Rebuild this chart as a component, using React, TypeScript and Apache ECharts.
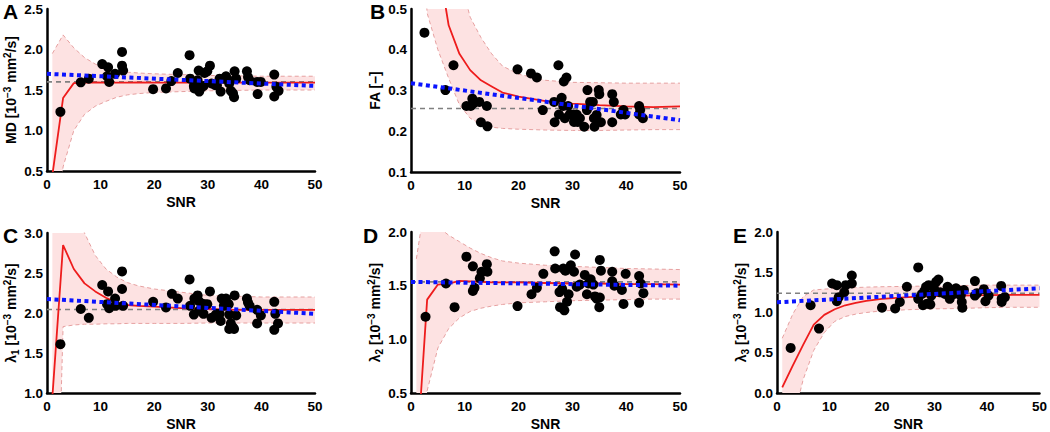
import React, { useEffect, useRef } from "react";
import * as echarts from "echarts";

// Shared SNR grid of the simulated mean / band curves
const snrGrid = [1, 3, 5, 7, 9, 11, 13, 15, 17, 20, 25, 30, 35, 40, 45, 50];
const trendSnr = [0, 50];
const refSnr = [0, 50];

// ---- Panel A : MD ----
const mdPoints: [number, number][] = [
  [2.5, 1.23], [6.3, 1.595], [7.8, 1.64], [10.3, 1.82], [11.4, 1.78], [11.2, 1.67], [11.6, 1.6],
  [12.7, 1.7], [14.0, 1.97], [14.0, 1.8], [14.2, 1.74], [19.8, 1.51], [22.2, 1.52], [23.2, 1.61],
  [24.4, 1.71], [26.6, 1.93], [26.7, 1.64], [27.4, 1.55], [27.5, 1.52], [28.1, 1.62], [28.3, 1.74],
  [28.4, 1.48], [28.8, 1.53], [29.2, 1.55], [29.4, 1.71], [29.9, 1.73], [30.4, 1.8], [30.7, 1.58],
  [31.4, 1.56], [31.7, 1.56], [32.2, 1.64], [32.4, 1.48], [33.0, 1.64], [33.4, 1.67], [33.9, 1.62],
  [34.0, 1.58], [34.3, 1.49], [34.7, 1.46], [34.9, 1.41], [35.0, 1.73], [35.3, 1.64], [37.3, 1.73],
  [37.5, 1.66], [37.8, 1.62], [39.2, 1.6], [39.3, 1.45], [39.9, 1.6], [42.4, 1.69], [42.4, 1.42],
  [42.8, 1.54], [43.2, 1.49],
];
const mdMean = [0.45, 1.4, 1.585, 1.59, 1.595, 1.59, 1.59, 1.59, 1.595, 1.59, 1.59, 1.59, 1.59, 1.59, 1.59, 1.59];
const mdUpper = [1.95, 2.18, 2.02, 1.9, 1.82, 1.77, 1.74, 1.72, 1.71, 1.7, 1.69, 1.68, 1.675, 1.67, 1.67, 1.67];
const mdLower = [-0.5, 0.55, 1.0, 1.2, 1.3, 1.36, 1.41, 1.44, 1.455, 1.47, 1.48, 1.49, 1.495, 1.5, 1.5, 1.5];
const mdReference = 1.6;
const mdTrend = [1.7, 1.55];

// ---- Panel B : FA ----
const faPoints: [number, number][] = [
  [2.5, 0.442], [6.4, 0.301], [7.9, 0.362], [10.3, 0.262], [11.4, 0.28], [11.6, 0.268], [11.1, 0.262],
  [12.7, 0.272], [13.0, 0.222], [14.1, 0.262], [14.2, 0.212], [19.8, 0.352], [22.3, 0.342], [23.4, 0.332],
  [24.5, 0.252], [26.6, 0.272], [26.7, 0.222], [27.4, 0.362], [27.5, 0.241], [28.0, 0.282], [28.3, 0.262],
  [28.4, 0.322], [28.9, 0.332], [28.6, 0.232], [29.2, 0.262], [29.5, 0.241], [30.2, 0.241], [30.3, 0.223],
  [30.8, 0.241], [31.0, 0.223], [31.4, 0.232], [32.2, 0.211], [32.8, 0.301], [32.7, 0.252], [33.3, 0.272],
  [33.8, 0.272], [34.0, 0.232], [34.1, 0.211], [34.5, 0.24], [34.9, 0.301], [35.0, 0.291], [35.3, 0.222],
  [37.4, 0.291], [37.4, 0.222], [37.7, 0.272], [39.0, 0.241], [39.5, 0.252], [39.8, 0.241], [42.4, 0.262],
  [42.6, 0.252], [42.4, 0.241], [43.1, 0.232],
];
const faMean = [2.0, 1.0, 0.62, 0.46, 0.39, 0.35, 0.325, 0.31, 0.295, 0.285, 0.274, 0.268, 0.264, 0.261, 0.259, 0.261];
const faUpper = [3.0, 1.5, 1.0, 0.8, 0.58, 0.48, 0.43, 0.39, 0.36, 0.34, 0.325, 0.32, 0.319, 0.318, 0.318, 0.318];
const faLower = [0.9, 0.49, 0.4, 0.33, 0.265, 0.232, 0.217, 0.21, 0.207, 0.205, 0.203, 0.202, 0.202, 0.203, 0.204, 0.204];
const faReference = 0.256;
const faTrend = [0.318, 0.227];

// ---- Panel C : lambda1 ----
const l1Points: [number, number][] = [
  [2.5, 1.61], [6.3, 2.05], [7.8, 1.94], [10.3, 2.35], [11.4, 2.27], [11.2, 2.11], [11.6, 2.06],
  [12.7, 2.18], [12.8, 2.09], [14.0, 2.52], [14.0, 2.3], [14.2, 2.09], [19.8, 2.14], [22.2, 2.07],
  [23.3, 2.24], [24.4, 2.18], [26.6, 2.42], [26.7, 2.09], [27.4, 1.98], [27.5, 2.18], [28.1, 2.22],
  [28.3, 2.15], [28.4, 2.03], [28.8, 2.12], [29.2, 1.99], [29.4, 2.11], [29.9, 2.11], [30.4, 2.27],
  [30.7, 1.94], [31.4, 1.97], [31.7, 1.99], [32.2, 1.99], [32.4, 1.9], [32.6, 2.18], [33.0, 2.09],
  [33.4, 2.18], [33.9, 2.11], [34.0, 1.98], [34.3, 1.87], [34.0, 1.8], [34.7, 1.82], [34.9, 1.8],
  [35.0, 2.22], [35.3, 1.97], [37.3, 2.18], [37.5, 2.13], [37.8, 2.09], [39.2, 2.04], [39.2, 1.87],
  [39.9, 1.97], [42.4, 2.14], [42.4, 1.79], [42.6, 1.99], [43.1, 1.87],
];
const l1Mean = [0.95, 2.85, 2.55, 2.37, 2.27, 2.19, 2.13, 2.1, 2.09, 2.08, 2.06, 2.05, 2.04, 2.04, 2.04, 2.04];
const l1Upper = [5.0, 4.0, 3.3, 3.0, 2.72, 2.55, 2.45, 2.38, 2.34, 2.3, 2.26, 2.22, 2.21, 2.2, 2.2, 2.2];
const l1Lower = [-3.0, 1.83, 1.85, 1.86, 1.86, 1.865, 1.865, 1.87, 1.87, 1.87, 1.87, 1.875, 1.875, 1.875, 1.875, 1.875];
const l1Reference = 2.043;
const l1Trend = [2.175, 1.99];

// ---- Panel D : lambda2 ----
const l2Points: [number, number][] = [
  [2.7, 1.21], [6.5, 1.52], [8.1, 1.3], [10.3, 1.77], [11.5, 1.68], [11.5, 1.45], [11.8, 1.48],
  [12.8, 1.57], [13.1, 1.63], [14.1, 1.7], [14.2, 1.63], [19.8, 1.31], [22.4, 1.42], [23.4, 1.48],
  [24.6, 1.61], [26.7, 1.82], [26.8, 1.66], [27.6, 1.44], [27.7, 1.3], [28.1, 1.47], [28.3, 1.66],
  [28.5, 1.27], [28.7, 1.64], [29.0, 1.35], [29.3, 1.42], [29.7, 1.69], [30.3, 1.63], [30.5, 1.79],
  [30.8, 1.49], [31.4, 1.51], [32.3, 1.6], [32.7, 1.42], [33.0, 1.52], [33.4, 1.56], [33.9, 1.51],
  [34.2, 1.4], [34.5, 1.38], [35.0, 1.3], [35.1, 1.74], [35.3, 1.64], [35.1, 1.39], [37.4, 1.63],
  [37.4, 1.54], [37.8, 1.5], [39.2, 1.46], [39.5, 1.33], [39.9, 1.61], [42.4, 1.59], [42.4, 1.34],
  [42.7, 1.52], [43.2, 1.43],
];
const l2Mean = [-0.16, 1.37, 1.51, 1.52, 1.545, 1.54, 1.535, 1.53, 1.53, 1.53, 1.525, 1.52, 1.52, 1.515, 1.515, 1.51];
const l2Upper = [1.75, 2.4, 2.05, 1.97, 1.91, 1.85, 1.8, 1.76, 1.73, 1.71, 1.69, 1.68, 1.67, 1.66, 1.655, 1.65];
const l2Lower = [-1.5, 0.52, 0.92, 1.1, 1.2, 1.26, 1.29, 1.31, 1.325, 1.34, 1.35, 1.36, 1.365, 1.37, 1.375, 1.375];
const l2Reference = 1.535;
const l2Trend = [1.535, 1.5];

// ---- Panel E : lambda3 ----
const l3Points: [number, number][] = [
  [2.6, 0.56], [6.4, 1.09], [8.0, 0.8], [10.5, 1.36], [11.4, 1.34], [11.4, 1.14], [11.75, 1.19],
  [12.8, 1.25], [13.1, 1.34], [14.25, 1.46], [14.25, 1.36], [20.0, 1.06], [22.5, 1.05], [23.4, 1.13],
  [24.75, 1.32], [26.9, 1.56], [26.9, 1.17], [27.6, 1.23], [27.8, 1.09], [28.1, 1.27], [28.4, 1.32],
  [28.6, 1.11], [28.9, 1.34], [29.2, 1.1], [29.4, 1.21], [29.9, 1.3], [30.3, 1.38], [30.75, 1.41],
  [31.1, 1.25], [32.0, 1.23], [32.5, 1.32], [32.9, 1.17], [33.4, 1.27], [33.75, 1.23], [34.1, 1.3],
  [34.7, 1.27], [35.0, 1.21], [35.2, 1.13], [35.3, 1.06], [35.6, 1.28], [37.7, 1.39], [37.7, 1.21],
  [38.1, 1.24], [39.4, 1.29], [39.7, 1.14], [40.3, 1.21], [42.7, 1.33], [42.8, 1.13], [42.8, 1.17],
  [43.4, 1.19],
];
const l3Mean = [0.07, 0.34, 0.6, 0.85, 0.97, 1.04, 1.09, 1.12, 1.145, 1.17, 1.19, 1.205, 1.21, 1.215, 1.22, 1.22];
const l3Upper = [0.68, 0.98, 1.2, 1.28, 1.29, 1.3, 1.305, 1.31, 1.315, 1.32, 1.325, 1.33, 1.335, 1.34, 1.34, 1.34];
const l3Lower = [-1.0, -0.35, 0.17, 0.53, 0.75, 0.89, 0.95, 0.98, 1.0, 1.02, 1.035, 1.045, 1.05, 1.06, 1.065, 1.065];
const l3Reference = 1.24;
const l3Trend = [1.127, 1.3];

const xTicks = { min: 0, max: 50, interval: 10 };

const unitName = "[10{sup|\u22123} mm{sup|2}/s]";
const panels = [
  { letter: "A", yName: "MD " + unitName, yMin: 0.5, yMax: 2.5, yStep: 0.5,
    points: mdPoints, mean: mdMean, upper: mdUpper, lower: mdLower, ref: mdReference, trend: mdTrend,
    grid: { left: 47, top: 9, width: 268, height: 162 }, nameGap: 26, lx: 3, ly: 11 },
  { letter: "B", yName: "FA [\u2013]", yMin: 0.1, yMax: 0.5, yStep: 0.1,
    points: faPoints, mean: faMean, upper: faUpper, lower: faLower, ref: faReference, trend: faTrend,
    grid: { left: 411, top: 9, width: 269, height: 163 }, nameGap: 26, lx: 370, ly: 11 },
  { letter: "C", yName: "\u03BB{sub|1} " + unitName, yMin: 1.0, yMax: 3.0, yStep: 0.5,
    points: l1Points, mean: l1Mean, upper: l1Upper, lower: l1Lower, ref: l1Reference, trend: l1Trend,
    grid: { left: 47, top: 233, width: 268, height: 162 }, nameGap: 26, lx: 3, ly: 235 },
  { letter: "D", yName: "\u03BB{sub|2} " + unitName, yMin: 0.5, yMax: 2.0, yStep: 0.5,
    points: l2Points, mean: l2Mean, upper: l2Upper, lower: l2Lower, ref: l2Reference, trend: l2Trend,
    grid: { left: 411, top: 232, width: 269, height: 163 }, nameGap: 19, lx: 363, ly: 235 },
  { letter: "E", yName: "\u03BB{sub|3} " + unitName, yMin: 0.0, yMax: 2.0, yStep: 0.5,
    points: l3Points, mean: l3Mean, upper: l3Upper, lower: l3Lower, ref: l3Reference, trend: l3Trend,
    grid: { left: 777, top: 232, width: 266, height: 163 }, nameGap: 22, lx: 733, ly: 235 },
];

const FONT = "'Liberation Sans', Arial, 'DejaVu Sans', sans-serif";

type Pt = number[];
// Sutherland-Hodgman clipping of a pixel polygon to the grid rectangle
function clipPolygon(pts: Pt[], x0: number, y0: number, x1: number, y1: number): Pt[] {
  const edges: [(p: Pt) => boolean, (a: Pt, b: Pt) => Pt][] = [
    [(p) => p[0] >= x0, (a, b) => [x0, a[1] + ((b[1] - a[1]) * (x0 - a[0])) / (b[0] - a[0])]],
    [(p) => p[0] <= x1, (a, b) => [x1, a[1] + ((b[1] - a[1]) * (x1 - a[0])) / (b[0] - a[0])]],
    [(p) => p[1] >= y0, (a, b) => [a[0] + ((b[0] - a[0]) * (y0 - a[1])) / (b[1] - a[1]), y0]],
    [(p) => p[1] <= y1, (a, b) => [a[0] + ((b[0] - a[0]) * (y1 - a[1])) / (b[1] - a[1]), y1]],
  ];
  let out = pts;
  for (const [inside, cut] of edges) {
    const input = out;
    out = [];
    if (!input.length) break;
    for (let k = 0; k < input.length; k++) {
      const cur = input[k];
      const prev = input[(k + input.length - 1) % input.length];
      const cIn = inside(cur);
      const pIn = inside(prev);
      if (cIn) {
        if (!pIn) out.push(cut(prev, cur));
        out.push(cur);
      } else if (pIn) {
        out.push(cut(prev, cur));
      }
    }
  }
  return out;
}

export default function App() {
  const ref = useRef<HTMLDivElement>(null);
  useEffect(() => {
    if (!ref.current) return;
    const chart = echarts.init(ref.current, null, { renderer: "svg" });
    const axisLine = { show: true, lineStyle: { color: "#000", width: 2.5 } };
    const labelStyle = { color: "#000", fontWeight: "bold" as const, fontSize: 13.5, fontFamily: FONT };
    const base = { color: "#000", fontWeight: "bold" as const, fontFamily: FONT };
    const nameStyle = {
      ...base, fontSize: 14, lineHeight: 18,
      rich: {
        sup: { ...base, fontSize: 10, lineHeight: 11, verticalAlign: "top" },
        sub: { ...base, fontSize: 10, lineHeight: 8, verticalAlign: "bottom" },
      },
    };
    const xNameStyle = { ...base, fontSize: 14 };

    const grid = panels.map((p) => ({ ...p.grid, containLabel: false }));
    const xAxis = panels.map((p, i) => ({
      type: "value", gridIndex: i, min: xTicks.min, max: xTicks.max, interval: xTicks.interval,
      name: "SNR", nameLocation: "middle", nameGap: 24, nameTextStyle: xNameStyle,
      axisLine, axisTick: { show: false }, splitLine: { show: false },
      axisLabel: { ...labelStyle, margin: 6, formatter: (v: number) => String(Math.round(v)) },
    }));
    const yAxis = panels.map((p, i) => ({
      type: "value", gridIndex: i, min: p.yMin, max: p.yMax, interval: p.yStep,
      name: p.yName, nameLocation: "middle", nameGap: p.nameGap, nameTextStyle: nameStyle,
      axisLine, axisTick: { show: false }, splitLine: { show: false },
      axisLabel: { ...labelStyle, margin: 4, formatter: (v: number) => v.toFixed(1) },
    }));

    const bandLine = { color: "#e6a0a0", width: 1, type: [4, 3] };
    const series: any[] = [];
    panels.forEach((p, i) => {
      const common = { xAxisIndex: i, yAxisIndex: i, symbol: "none", silent: true, clip: true };
      series.push({
        type: "custom", xAxisIndex: i, yAxisIndex: i, silent: true, clip: true, z: 1,
        data: [[snrGrid[0], p.mean[0]]],
        renderItem: (params: any, api: any) => {
          const up = snrGrid.map((x, j) => api.coord([x, p.upper[j]]));
          const lo = snrGrid.map((x, j) => api.coord([x, p.lower[j]])).reverse();
          const cs = params.coordSys;
          const pts = clipPolygon(up.concat(lo), cs.x, cs.y, cs.x + cs.width, cs.y + cs.height);
          return { type: "polygon", shape: { points: pts }, style: { fill: "#fde2e2", stroke: "none" } };
        },
      });
      series.push({
        ...common, type: "line", data: snrGrid.map((x, j) => [x, p.lower[j]]), lineStyle: bandLine, z: 2,
      });
      series.push({
        ...common, type: "line", data: snrGrid.map((x, j) => [x, p.upper[j]]), lineStyle: bandLine, z: 2,
      });
      series.push({
        ...common, type: "line", data: refSnr.map((x) => [x, p.ref]),
        lineStyle: { color: "#808080", width: 1.6, type: [5, 4] }, z: 3,
      });
      series.push({
        ...common, type: "line", data: snrGrid.map((x, j) => [x, p.mean[j]]),
        lineStyle: { color: "#ee1c1c", width: 1.8 }, z: 4,
      });
      series.push({
        xAxisIndex: i, yAxisIndex: i, type: "scatter", data: p.points, symbolSize: 10,
        itemStyle: { color: "#000", opacity: 1 }, silent: true, z: 5,
      });
      series.push({
        ...common, type: "line", data: trendSnr.map((x, j) => [x, p.trend[j]]),
        lineStyle: { color: "#0a14ff", width: 4, type: [4, 3.5], cap: "butt" }, z: 6,
      });
    });

    const graphic = panels.map((p) => ({
      type: "text", x: p.lx, y: p.ly,
      style: { text: p.letter, fill: "#000", font: `bold 21px ${FONT}`, verticalAlign: "middle" },
    }));

    chart.setOption({
      animation: false,
      backgroundColor: "#fff",
      grid, xAxis, yAxis, series, graphic,
    });
    return () => chart.dispose();
  }, []);
  return (
    <div
      ref={ref}
      style={{ position: "absolute", left: 0, top: 0, width: 1050, height: 432, background: "#fff" }}
    />
  );
}
